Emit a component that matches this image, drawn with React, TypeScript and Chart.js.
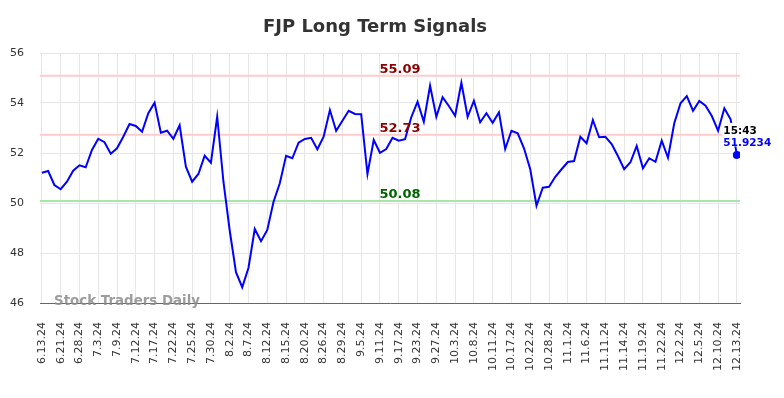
import React, { useEffect, useRef } from "react";
import { Chart, registerables } from "chart.js";

Chart.register(...registerables);

const tickLabels = [
  "6.13.24", "6.21.24", "6.28.24", "7.3.24", "7.9.24", "7.12.24", "7.17.24", "7.22.24",
  "7.25.24", "7.30.24", "8.2.24", "8.7.24", "8.12.24", "8.15.24", "8.20.24", "8.26.24",
  "8.29.24", "9.5.24", "9.11.24", "9.17.24", "9.23.24", "9.27.24", "10.3.24", "10.8.24",
  "10.11.24", "10.17.24", "10.22.24", "10.28.24", "11.1.24", "11.6.24", "11.11.24",
  "11.14.24", "11.19.24", "11.22.24", "12.2.24", "12.5.24", "12.10.24", "12.13.24",
];

const values = [
  51.21, 51.28, 50.72, 50.55, 50.85, 51.29, 51.51, 51.43, 52.12, 52.57,
  52.43, 51.97, 52.19, 52.65, 53.16, 53.08, 52.85, 53.59, 54.01, 52.81,
  52.89, 52.57, 53.11, 51.45, 50.85, 51.16, 51.89, 51.61, 53.45, 50.85,
  48.9, 47.23, 46.63, 47.41, 48.96, 48.47, 48.92, 50.05, 50.79, 51.89,
  51.79, 52.41, 52.56, 52.61, 52.15, 52.65, 53.72, 52.89, 53.29, 53.69,
  53.56, 53.55, 51.16, 52.52, 52.01, 52.16, 52.61, 52.49, 52.55, 53.43,
  54.05, 53.25, 54.69, 53.45, 54.23, 53.88, 53.49, 54.81, 53.45, 54.09,
  53.23, 53.59, 53.21, 53.63, 52.16, 52.89, 52.79, 52.19, 51.35, 49.89,
  50.61, 50.65, 51.05, 51.35, 51.64, 51.68, 52.65, 52.39, 53.32, 52.63,
  52.65, 52.36, 51.88, 51.35, 51.63, 52.28, 51.39, 51.79, 51.65, 52.49,
  51.81, 53.19, 53.99, 54.28, 53.69, 54.08, 53.89, 53.48, 52.89, 53.79,
  53.35, 51.9234,
];

const yTicks = [46, 48, 50, 52, 54, 56];
const resistanceHigh = 55.09;
const resistanceMid = 52.73;
const supportLevel = 50.08;
const lastTime = "15:43";
const lastValueText = "51.9234";
const titleText = "FJP Long Term Signals";
const watermarkText = "Stock Traders Daily";

const FONT = "'DejaVu Sans', sans-serif";

const overlay = {
  id: "overlay",
  beforeDatasetsDraw(chart: any) {
    const { ctx, chartArea, scales } = chart;
    const y = scales.y;
    const lines: [number, string][] = [
      [resistanceHigh, "#ffcccc"],
      [resistanceMid, "#ffcccc"],
      [supportLevel, "#a6e6a6"],
    ];
    ctx.save();
    lines.forEach(([v, c]) => {
      const py = y.getPixelForValue(v);
      ctx.strokeStyle = c;
      ctx.lineWidth = 2;
      ctx.beginPath();
      ctx.moveTo(chartArea.left, py);
      ctx.lineTo(chartArea.right, py);
      ctx.stroke();
    });
    ctx.restore();
  },
  afterDatasetsDraw(chart: any) {
    const { ctx, scales } = chart;
    const x = scales.x;
    const y = scales.y;
    ctx.save();

    // Title
    ctx.font = `bold 18px ${FONT}`;
    ctx.fillStyle = "#333333";
    ctx.textAlign = "center";
    ctx.textBaseline = "alphabetic";
    ctx.fillText(titleText, 375, 32);

    // Level labels
    const cx = x.getPixelForValue(57.2);
    ctx.font = `bold 13px ${FONT}`;
    const lvl: [number, string][] = [
      [resistanceHigh, "#8b0000"],
      [resistanceMid, "#8b0000"],
      [supportLevel, "#006400"],
    ];
    lvl.forEach(([v, c]) => {
      ctx.fillStyle = c;
      ctx.fillText(v.toFixed(2), cx, y.getPixelForValue(v) - 3);
    });

    // Watermark
    ctx.font = `bold 13.4px ${FONT}`;
    ctx.fillStyle = "rgba(140,140,140,0.85)";
    ctx.textAlign = "left";
    ctx.fillText(watermarkText, 54, 305);

    // Last value labels
    const li = values.length - 1;
    const px = x.getPixelForValue(li);
    const py = y.getPixelForValue(values[li]);
    const lx = px - 13.5;
    ctx.fillStyle = "#ffffff";
    ctx.fillRect(lx - 1, py - 32, 50, 23.5);
    ctx.font = `bold 10.5px ${FONT}`;
    ctx.fillStyle = "#000000";
    ctx.fillText(lastTime, lx, py - 21);
    ctx.fillStyle = "#0000ff";
    ctx.fillText(lastValueText, lx, py - 9);

    ctx.restore();
  },
};

export default function App() {
  const canvasRef = useRef<HTMLCanvasElement | null>(null);

  useEffect(() => {
    document.body.style.margin = "0";
    const canvas = canvasRef.current;
    if (!canvas) return;
    Chart.defaults.font.family = FONT;
    const chart = new Chart(canvas, {
      type: "line",
      data: {
        datasets: [
          {
            data: values.map((v, i) => ({ x: i, y: v })),
            borderColor: "#0000ff",
            backgroundColor: "#0000ff",
            borderWidth: 2,
            pointRadius: (c: any) => (c.dataIndex === values.length - 1 ? 4 : 0),
            pointBackgroundColor: "#0000ff",
            pointBorderWidth: 0,
            tension: 0,
            fill: false,
          },
        ],
      },
      options: {
        animation: false,
        responsive: false,
        layout: { padding: { top: 53, right: 44, left: 0, bottom: 0 } },
        plugins: {
          legend: { display: false },
          tooltip: { enabled: false },
          title: { display: false },
        },
        scales: {
          x: {
            type: "linear",
            min: -0.3,
            max: 111.5,
            afterBuildTicks: (s: any) => {
              s.ticks = tickLabels.map((_, k) => ({ value: k * 3 }));
            },
            afterFit: (s: any) => {
              s.height = 95;
            },
            ticks: {
              autoSkip: false,
              maxRotation: 90,
              minRotation: 90,
              padding: 19,
              color: "#333333",
              font: { size: 11, family: FONT },
              callback: (_v: any, idx: number) => tickLabels[idx] ?? "",
            },
            grid: { color: "#e6e6e6", drawTicks: false },
            border: { color: "#666666", width: 1 },
          },
          y: {
            min: 46,
            max: 56,
            afterBuildTicks: (s: any) => {
              s.ticks = yTicks.map((v) => ({ value: v }));
            },
            afterFit: (s: any) => {
              s.width = 40;
            },
            ticks: {
              padding: 16,
              color: "#333333",
              font: { size: 11, family: FONT },
            },
            grid: { color: "#e6e6e6", drawTicks: false },
            border: { display: false },
          },
        },
      },
      plugins: [overlay],
    } as any);
    return () => chart.destroy();
  }, []);

  return (
    <div style={{ width: 784, height: 398 }}>
      <canvas ref={canvasRef} width={784} height={398} style={{ display: "block" }} />
    </div>
  );
}
